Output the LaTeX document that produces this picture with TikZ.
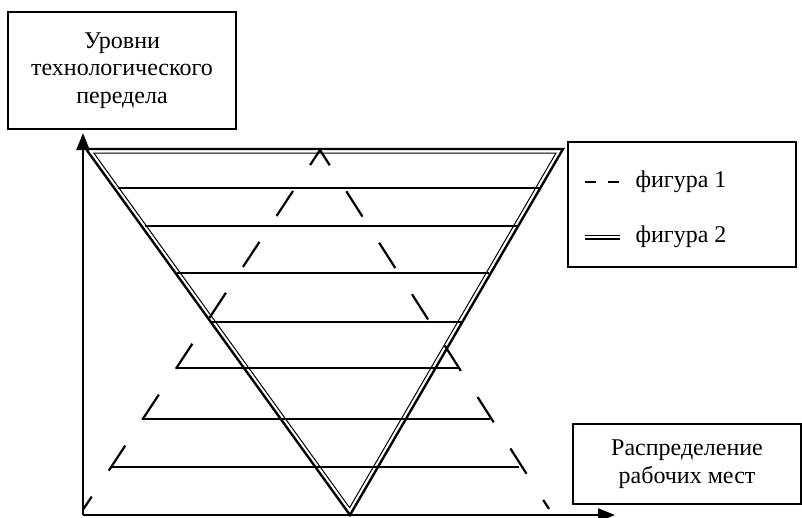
\documentclass[tikz,border=0pt]{standalone}
\usepackage{fontspec}
\setmainfont{Liberation Serif}
\usetikzlibrary{arrows.meta}
\begin{document}
\begin{tikzpicture}[x=1pt,y=-1pt,
  lbl/.style={font=\fontsize{24}{27.5}\selectfont, align=center, text=black},
  boxn/.style={draw, line width=1.1pt, lbl, inner sep=0pt},
  ax/.style={line width=2.2pt, -{Triangle[length=17pt,width=13pt]}},
  hl/.style={line width=2pt},
  dsh/.style={line width=2.2pt, dash pattern=on 30pt off 31pt, dash phase=12pt},
  outer/.style={line width=2.4pt, line join=miter},
  inner/.style={line width=1pt, line join=miter}]
\useasboundingbox (0,0) rectangle (802,517);

% boxes
\node[boxn, minimum width=228pt, minimum height=117pt] (yl) at (122,70.5) {Уровни\\технологического\\передела};
\node[boxn, minimum width=228pt, minimum height=80pt] (xl) at (687,464) {Распределение\\рабочих мест};
\node[draw, line width=1.1pt, minimum width=228pt, minimum height=125pt, inner sep=0pt] (leg) at (682,204.5) {};

% axes
\coordinate (O) at (83,515);
\coordinate (Ytip) at (83,133);
\coordinate (Xtip) at (615,515);
\draw[ax] (O) -- (Ytip);
\draw[ax] (O) -- (Xtip);

% figure 2: inverted triangle (double line)
\coordinate (A) at (86,149);
\coordinate (B) at (563,149);
\coordinate (C) at (350,515);
\coordinate (Ai) at (93.8,153);
\coordinate (Bi) at (556,153);
\coordinate (Ci) at (349.6,507.7);
\draw[outer] (A) -- (B) -- (C) -- cycle;
\draw[inner] (Ai) -- (Bi) -- (Ci) -- cycle;

% figure 1: dashed triangle
\coordinate (P) at (320,150);
\coordinate (PL) at (83.5,509);
\coordinate (PR) at (549,509);
\draw[dsh] (P) -- (PL);
\draw[dsh] (P) -- (PR);

% horizontal levels
\draw[hl] (118,188) -- (539,188);
\draw[hl] (145,226) -- (518,226);
\draw[hl] (177,273) -- (489,273);
\draw[hl] (211,322) -- (462,322);
\draw[hl] (177,368) -- (459,368);
\draw[hl] (143,419) -- (490,419);
\draw[hl] (111,467) -- (519,467);

% legend
\draw[line width=2pt, dash pattern=on 11pt off 12pt] (585,182) -- (620,182);
\node[lbl, anchor=base west] (l1) at (632,187) {фигура 1};
\draw[inner] (585,235) -- (620,235);
\draw[line width=2pt] (585,239) -- (620,239);
\node[lbl, anchor=base west] (l2) at (632,242) {фигура 2};
\end{tikzpicture}
\end{document}
